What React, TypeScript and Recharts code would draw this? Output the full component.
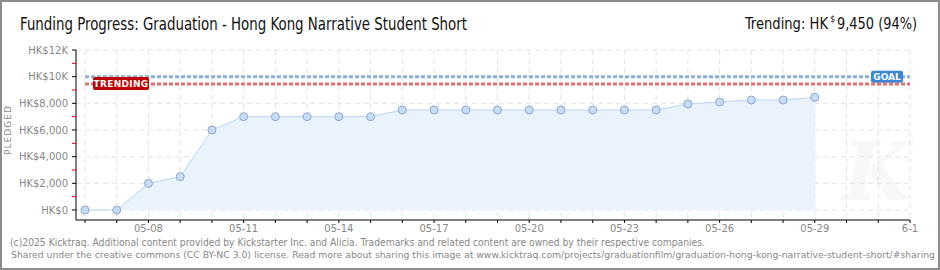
import React from "react";
import {
  ComposedChart,
  Area,
  XAxis,
  YAxis,
  CartesianGrid,
  ReferenceLine,
} from "recharts";

const dates = [
  "05-06", "05-07", "05-08", "05-09", "05-10", "05-11", "05-12", "05-13",
  "05-14", "05-15", "05-16", "05-17", "05-18", "05-19", "05-20", "05-21",
  "05-22", "05-23", "05-24", "05-25", "05-26", "05-27", "05-28", "05-29",
];
const pledged = [
  0, 0, 2000, 2500, 6000, 7000, 7000, 7000, 7000, 7000, 7500, 7500, 7500,
  7500, 7500, 7500, 7500, 7500, 7500, 7950, 8100, 8250, 8250, 8450,
];
const xTickValues = [8, 11, 14, 17, 20, 23, 26, 29, 32];
const xTickLabels = ["05-08", "05-11", "05-14", "05-17", "05-20", "05-23", "05-26", "05-29", "6-1"];
const yTickValues = [0, 2000, 4000, 6000, 8000, 10000, 12000];
const yTickLabels = ["HK$0", "HK$2,000", "HK$4,000", "HK$6,000", "HK$8,000", "HK$10K", "HK$12K"];
const GOAL = 10000;
const TRENDING = 9450;

// day-of-may number, june continues past 31
const dayNum = (d: string) => {
  const [m, day] = d.split("-").map(Number);
  return m === 5 ? day : 31 + day;
};

const data = dates.map((d, i) => ({ day: dayNum(d), pledged: pledged[i] }));

const allDays: number[] = [];
for (let d = 6; d <= 32; d++) allDays.push(d);
const minorY: number[] = [];
for (let v = 0; v <= 12000; v += 1000) minorY.push(v);

const AXIS_FONT = "'DejaVu Sans', sans-serif";
const HEAD_FONT = "'DejaVu Sans Condensed', sans-serif";

function XTick({ x, y, payload }: any) {
  const idx = xTickValues.indexOf(payload.value);
  if (idx < 0) return null;
  return (
    <text x={x} y={y} dy="0.71em" textAnchor="middle" fontSize={10} fill="#888" fontFamily={AXIS_FONT}>
      {xTickLabels[idx]}
    </text>
  );
}

function YTick({ x, y, payload }: any) {
  const idx = yTickValues.indexOf(payload.value);
  const major = idx >= 0;
  return (
    <g>
      <line x1={x + 4} x2={x + 8} y1={y} y2={y} stroke={major ? "#000" : "#e00000"} strokeWidth={1} />
      {major && (
        <text x={x} y={y} dy="0.355em" textAnchor="end" fontSize={10} fill="#888" fontFamily={AXIS_FONT}>
          {yTickLabels[idx]}
        </text>
      )}
    </g>
  );
}

function Dot({ cx, cy }: any) {
  if (cx == null || cy == null) return null;
  return <circle cx={cx} cy={cy} r={4} fill="#c6ddf8" stroke="#8ea8c9" strokeWidth={1} />;
}

function GoalLabel({ viewBox }: any) {
  const right = viewBox.x + viewBox.width - 7;
  return (
    <g>
      <rect x={right - 32} y={viewBox.y - 6} width={32} height={12} rx={2} fill="#3d86d6" />
      <text x={right - 16} y={viewBox.y} dy="0.36em" textAnchor="middle" fontSize={9} fontWeight="bold" fill="#fff" fontFamily={AXIS_FONT}>
        GOAL
      </text>
    </g>
  );
}

function TrendingLabel({ viewBox }: any) {
  const left = viewBox.x + 8;
  return (
    <g>
      <rect x={left} y={viewBox.y - 7} width={56} height={13} rx={2} fill="#c00000" />
      <text x={left + 28} y={viewBox.y} dy="0.3em" textAnchor="middle" fontSize={9} fontWeight="bold" fill="#fff" fontFamily={AXIS_FONT} letterSpacing={0.3}>
        TRENDING
      </text>
    </g>
  );
}

export default function App() {
  return (
    <div style={{ position: "absolute", left: 0, top: 0, width: 940, height: 270, background: "#fff", overflow: "hidden" }}>
      <svg width={940} height={270} style={{ position: "absolute", left: 0, top: 0 }}>
        <text x={842} y={200} fontSize={80} fontStyle="italic" fontWeight="bold" fill="#f8f8f8" fontFamily="'DejaVu Serif', serif">
          K
        </text>
      </svg>
      <div style={{ position: "absolute", left: 0, top: 0 }}>
        <ComposedChart width={940} height={270} data={data} margin={{ top: 50, right: 30, bottom: 30, left: 0 }}>
          <CartesianGrid
            stroke="#e3e3e3"
            strokeDasharray="5 4"
            horizontalValues={yTickValues}
            verticalValues={allDays}
          />
          <XAxis
            dataKey="day"
            type="number"
            domain={[6, 32]}
            ticks={allDays}
            interval={0}
            padding={{ left: 9, right: 0 }}
            axisLine={{ stroke: "#000" }}
            tickLine={{ stroke: "#000" }}
            tickSize={3}
            tickMargin={2}
            height={20}
            tick={<XTick />}
          />
          <YAxis
            type="number"
            domain={[0, 12000]}
            ticks={minorY}
            interval={0}
            width={76}
            padding={{ top: 0, bottom: 10 }}
            axisLine={{ stroke: "#000" }}
            tickLine={false}
            tickSize={4}
            tickMargin={4}
            tick={<YTick />}
          />
          <Area
            type="linear"
            dataKey="pledged"
            stroke="#b7d5f3"
            strokeWidth={1}
            fill="#eaf2fc"
            fillOpacity={1}
            dot={<Dot />}
            activeDot={false}
            isAnimationActive={false}
          />
          <ReferenceLine
            segment={[{ x: 6, y: GOAL }, { x: 32, y: GOAL }]}
            stroke="#8db0db"
            strokeWidth={3}
            strokeDasharray="4 2"
            label={GoalLabel}
          />
          <ReferenceLine
            segment={[{ x: 6, y: TRENDING }, { x: 32, y: TRENDING }]}
            stroke="#e07272"
            strokeWidth={3}
            strokeDasharray="4 2"
            label={TrendingLabel}
          />
        </ComposedChart>
      </div>
      <svg width={940} height={270} style={{ position: "absolute", left: 0, top: 0, pointerEvents: "none" }}>
        <text x={20} y={30} fontSize={17} fill="#111" fontFamily={HEAD_FONT} textLength={447} lengthAdjust="spacingAndGlyphs">
          Funding Progress: Graduation - Hong Kong Narrative Student Short
        </text>
        <text x={745} y={29} fontSize={15} fill="#111" fontFamily={HEAD_FONT} textLength={83} lengthAdjust="spacingAndGlyphs">
          Trending: HK
        </text>
        <text x={830} y={22} fontSize={9} fill="#111" fontFamily={HEAD_FONT}>
          $
        </text>
        <text x={837} y={29} fontSize={15} fill="#111" fontFamily={HEAD_FONT} textLength={80} lengthAdjust="spacingAndGlyphs">
          9,450 (94%)
        </text>
        <text
          x={11}
          y={130}
          transform="rotate(-90 11 130)"
          textAnchor="middle"
          fontSize={9}
          fill="#888"
          letterSpacing={1}
          fontFamily={AXIS_FONT}
        >
          PLEDGED
        </text>
        <text x={10} y={246} fontSize={10} fill="#888" fontFamily={HEAD_FONT} textLength={695} lengthAdjust="spacingAndGlyphs">
          (c)2025 Kicktraq. Additional content provided by Kickstarter Inc. and Alicia. Trademarks and related content are owned by their respective companies.
        </text>
        <text x={11} y={258} fontSize={9.5} fill="#888" fontFamily={HEAD_FONT} textLength={924} lengthAdjust="spacingAndGlyphs">
          Shared under the creative commons (CC BY-NC 3.0) license. Read more about sharing this image at www.kicktraq.com/projects/graduationfilm/graduation-hong-kong-narrative-student-short/#sharing
        </text>
      </svg>
      <div
        style={{
          position: "absolute",
          left: 0,
          top: 0,
          width: 940,
          height: 270,
          boxSizing: "border-box",
          border: "2px solid #8c8c8c",
          pointerEvents: "none",
        }}
      />
    </div>
  );
}
